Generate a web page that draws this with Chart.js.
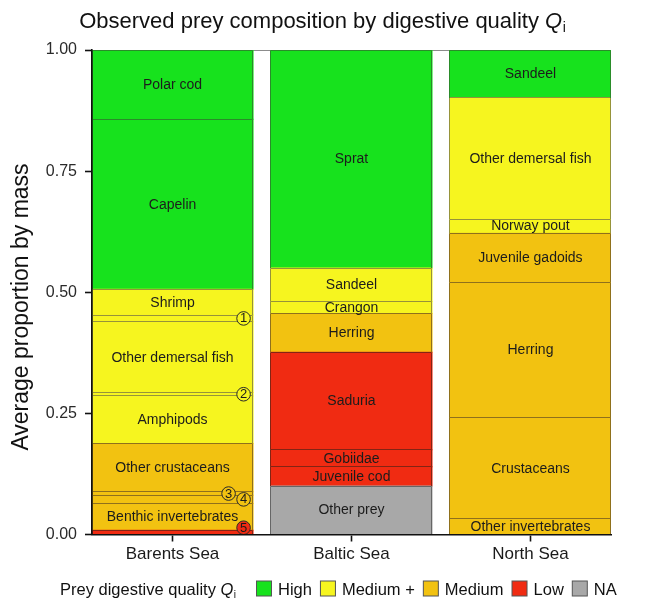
<!DOCTYPE html>
<html>
<head>
<meta charset="utf-8">
<script src="https://cdn.jsdelivr.net/npm/chart.js@4/dist/chart.umd.min.js"></script>
<style>
  html, body { margin: 0; padding: 0; background: #ffffff; }
  #wrap { width: 645px; height: 600px; }
</style>
</head>
<body>
<div id="wrap"><canvas id="c" width="645" height="600"></canvas></div>
<script>
// ---- data -------------------------------------------------------------
const seaNames = ['Barents Sea', 'Baltic Sea', 'North Sea'];
const qualityNames = ['High', 'Medium +', 'Medium', 'Low', 'NA'];

// each sea is listed from the bottom of its bar to the top
const barentsPrey    = ['5', 'Benthic invertebrates', '4', '3', 'Other crustaceans', 'Amphipods', '2', 'Other demersal fish', '1', 'Shrimp', 'Capelin', 'Polar cod'];
const barentsShare   = [0.009, 0.055, 0.017, 0.007, 0.100, 0.098, 0.007, 0.146, 0.014, 0.053, 0.351, 0.143];
const barentsQuality = ['Low', 'Medium', 'Medium', 'Medium', 'Medium', 'Medium +', 'Medium +', 'Medium +', 'Medium +', 'Medium +', 'High', 'High'];

const balticPrey    = ['Other prey', 'Juvenile cod', 'Gobiidae', 'Saduria', 'Herring', 'Crangon', 'Sandeel', 'Sprat'];
const balticShare   = [0.100, 0.040, 0.035, 0.201, 0.080, 0.025, 0.069, 0.450];
const balticQuality = ['NA', 'Low', 'Low', 'Low', 'Medium', 'Medium +', 'Medium +', 'High'];

const northPrey    = ['Other invertebrates', 'Crustaceans', 'Herring', 'Juvenile gadoids', 'Norway pout', 'Other demersal fish', 'Sandeel'];
const northShare   = [0.032, 0.209, 0.280, 0.101, 0.029, 0.250, 0.099];
const northQuality = ['Medium', 'Medium', 'Medium', 'Medium', 'Medium +', 'Medium +', 'High'];

const yTickValues = [0, 0.25, 0.5, 0.75, 1];

// ---- styling -------------------------------------------------------------
const FONT = '"Liberation Sans", Arial, Helvetica, sans-serif';
const fillOf = {
  'High':     '#17e21d',
  'Medium +': '#f6f51f',
  'Medium':   '#f2c211',
  'Low':      '#f02b12',
  'NA':       '#a8a8a8'
};
const edgeOf = {
  'High':     '#2a8c2a',
  'Medium +': '#96933a',
  'Medium':   '#8f701c',
  'Low':      '#842414',
  'NA':       '#666666'
};
// small numbered segments carry a circled number; some are nudged sideways
const circleNudge = { '3': 15 };

// ---- datasets: one per prey segment, stacked per sea ---------------------
const seas = [
  { prey: barentsPrey, share: barentsShare, quality: barentsQuality },
  { prey: balticPrey,  share: balticShare,  quality: balticQuality },
  { prey: northPrey,   share: northShare,   quality: northQuality }
];
const datasets = [];
seas.forEach((sea, si) => {
  sea.prey.forEach((name, k) => {
    const q = sea.quality[k];
    datasets.push({
      label: name,
      quality: q,
      data: [{ x: si, y: sea.share[k] }],
      backgroundColor: fillOf[q],
      borderWidth: 0,
      inflateAmount: 0.5,
      barPercentage: 0.9,
      categoryPercentage: 1.0
    });
  });
});

// draws italic Q with a subscript i, returns the width used
function drawQi(ctx, x, baseline, size) {
  ctx.font = `italic ${size}px ${FONT}`;
  ctx.textAlign = 'left';
  ctx.textBaseline = 'alphabetic';
  ctx.fillText('Q', x, baseline);
  const wq = ctx.measureText('Q').width;
  const sub = Math.round(size * 0.62);
  ctx.font = `${sub}px ${FONT}`;
  ctx.fillText('i', x + wq + 0.5, baseline + size * 0.2);
  return wq + 0.5 + ctx.measureText('i').width;
}

const decorations = {
  id: 'decorations',
  afterDatasetsDraw(chart) {
    const ctx = chart.ctx;
    const area = chart.chartArea;
    const bars = chart.data.datasets.map((ds, i) => ({ ds, bar: chart.getDatasetMeta(i).data[0] }))
      .filter(o => o.bar);

    // crisp outline of each segment: its top edge and both sides
    ctx.save();
    ctx.lineWidth = 1;
    bars.forEach(({ ds, bar }) => {
      const top = Math.min(bar.y, bar.base);
      const bottom = Math.max(bar.y, bar.base);
      const l = Math.floor(bar.x - bar.width / 2) + 0.5;
      const r = Math.floor(bar.x + bar.width / 2) - 0.5;
      const t = Math.floor(top) + 0.5;
      ctx.strokeStyle = edgeOf[ds.quality];
      ctx.beginPath();
      ctx.moveTo(l, bottom);
      ctx.lineTo(l, t);
      ctx.lineTo(r, t);
      ctx.lineTo(r, bottom);
      ctx.stroke();
    });
    ctx.restore();

    bars.forEach(({ ds, bar }) => {
      const top = Math.min(bar.y, bar.base);
      const bottom = Math.max(bar.y, bar.base);
      const midY = (top + bottom) / 2;
      ctx.save();
      if (/^\d$/.test(ds.label)) {
        const r = 6.8;
        const cx = bar.x + bar.width / 2 - 9.5 - (circleNudge[ds.label] || 0);
        const cy = Math.min(midY, area.bottom - r);
        ctx.beginPath();
        ctx.arc(cx, cy, r, 0, Math.PI * 2);
        ctx.fillStyle = fillOf[ds.quality];
        ctx.fill();
        ctx.lineWidth = 1;
        ctx.strokeStyle = '#2a2a2a';
        ctx.stroke();
        ctx.fillStyle = '#1a1a1a';
        ctx.font = `13px ${FONT}`;
        ctx.textAlign = 'center';
        ctx.textBaseline = 'middle';
        ctx.fillText(ds.label, cx, cy + 0.5);
      } else {
        ctx.fillStyle = '#1c1c1c';
        ctx.font = `14px ${FONT}`;
        ctx.textAlign = 'center';
        ctx.textBaseline = 'middle';
        ctx.fillText(ds.label, bar.x, midY + 0.5);
      }
      ctx.restore();
    });
  },
  afterDraw(chart) {
    const ctx = chart.ctx;
    ctx.save();
    ctx.fillStyle = '#111111';

    // title
    const tSize = 22;
    const tMain = 'Observed prey composition by digestive quality ';
    ctx.font = `${tSize}px ${FONT}`;
    const wMain = ctx.measureText(tMain).width;
    ctx.font = `italic ${tSize}px ${FONT}`;
    const wQ = ctx.measureText('Q').width;
    ctx.font = `${Math.round(tSize * 0.62)}px ${FONT}`;
    const wi = ctx.measureText('i').width;
    let x = 322.5 - (wMain + wQ + 0.5 + wi) / 2;
    ctx.font = `${tSize}px ${FONT}`;
    ctx.textAlign = 'left';
    ctx.textBaseline = 'alphabetic';
    ctx.fillText(tMain, x, 28);
    drawQi(ctx, x + wMain, 28, tSize);

    // y axis title
    ctx.save();
    ctx.translate(22, 307);
    ctx.rotate(-Math.PI / 2);
    ctx.font = `23px ${FONT}`;
    ctx.textAlign = 'center';
    ctx.textBaseline = 'middle';
    ctx.fillText('Average proportion by mass', 0, 0);
    ctx.restore();

    // legend
    const lSize = 16.5;
    const base = 594.5;
    x = 60;
    ctx.font = `${lSize}px ${FONT}`;
    ctx.textAlign = 'left';
    ctx.textBaseline = 'alphabetic';
    const lead = 'Prey digestive quality ';
    ctx.fillText(lead, x, base);
    x += ctx.measureText(lead).width;
    x += drawQi(ctx, x, base, lSize);
    x = Math.max(x + 18, 256);
    qualityNames.forEach(q => {
      ctx.fillStyle = fillOf[q];
      ctx.fillRect(x + 0.5, base - 13.5, 15, 15);
      ctx.strokeStyle = '#555555';
      ctx.lineWidth = 1;
      ctx.strokeRect(x + 0.5, base - 13.5, 15, 15);
      x += 15 + 7;
      ctx.fillStyle = '#111111';
      ctx.font = `${lSize}px ${FONT}`;
      ctx.fillText(q, x, base);
      x += ctx.measureText(q).width + 8;
    });
    ctx.restore();
  }
};

new Chart(document.getElementById('c'), {
  type: 'bar',
  data: { datasets },
  plugins: [decorations],
  options: {
    responsive: false,
    devicePixelRatio: 1,
    animation: false,
    layout: { padding: { top: 50, right: 34, bottom: 0, left: 0 } },
    plugins: {
      legend: { display: false },
      title: { display: false },
      tooltip: { enabled: false }
    },
    scales: {
      x: {
        type: 'linear',
        stacked: true,
        offset: false,
        min: -0.45,
        max: 2.45,
        afterBuildTicks: s => { s.ticks = seaNames.map((_, i) => ({ value: i })); },
        afterFit: s => { s.height = 65.5; },
        ticks: {
          callback: v => seaNames[v],
          font: { family: FONT, size: 17 },
          color: '#1a1a1a',
          padding: 3,
          maxRotation: 0
        },
        grid: {
          offset: false,
          drawOnChartArea: false,
          drawTicks: true,
          tickLength: 7,
          tickColor: '#111111',
          tickWidth: 1.6
        },
        border: { display: true, color: '#111111', width: 1.6, z: 1 }
      },
      y: {
        stacked: true,
        min: 0,
        max: 1,
        afterBuildTicks: s => { s.ticks = yTickValues.map(v => ({ value: v })); },
        afterFit: s => { s.width = 92; },
        ticks: {
          callback: v => v.toFixed(2),
          font: { family: FONT, size: 16 },
          color: '#2a2a2a',
          padding: 8
        },
        grid: {
          drawOnChartArea: true,
          color: c => (c.tick && c.tick.value === 1 ? '#8c8c8c' : 'rgba(0,0,0,0)'),
          lineWidth: 1,
          tickLength: 7,
          tickColor: '#111111',
          tickWidth: 1.6
        },
        border: { display: true, color: '#111111', width: 1.6, z: 1 },
        title: { display: false }
      }
    }
  }
});
</script>
</body>
</html>
